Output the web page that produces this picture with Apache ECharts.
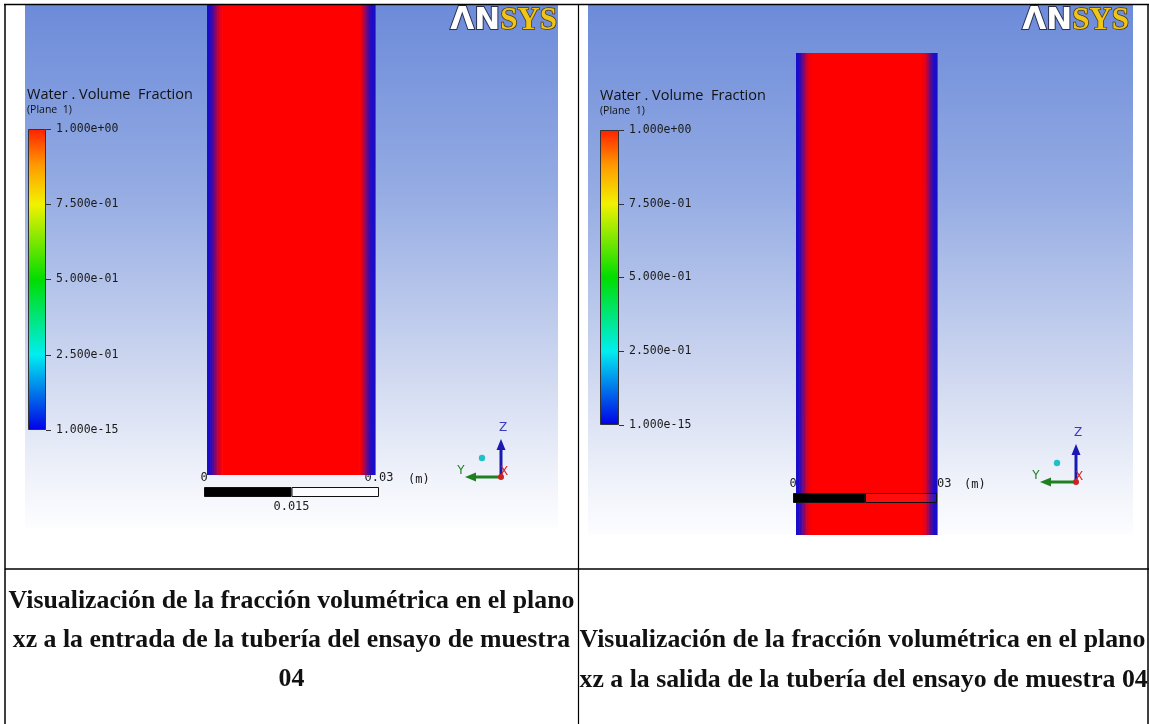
<!DOCTYPE html>
<html><head><meta charset="utf-8">
<script src="https://cdn.jsdelivr.net/npm/echarts@6/dist/echarts.min.js"></script>
<style>html,body{margin:0;padding:0;background:#fff}#c{width:1149px;height:724px}</style>
</head><body><div id="c"></div>
<script>
// ---- data ----
const legendTitle = 'Water . Volume  Fraction';
const legendSub = '(Plane  1)';
const colorbarTicks = [0, 0.25, 0.5, 0.75, 1];
const colorbarLabels = ['1.000e-15', '2.500e-01', '5.000e-01', '7.500e-01', '1.000e+00'];
const colormapStops = [0, 0.25, 0.5, 0.75, 0.88, 1];
const colormapColors = ['#0000e6', '#00eef0', '#00dd00', '#f2f200', '#ff9a00', '#ff2000'];
const scaleTicks = [0, 0.015, 0.03];
const scaleLabels = ['0', '0.015', '0.03'];
const scaleSegments = [0.015, 0.015];
const scaleUnit = '(m)';
// water volume fraction across the pipe (x in m): segment boundaries and values
const inletEdges = [0, 0.0006, 0.0009, 0.0012, 0.0015, 0.0018, 0.0021, 0.0024, 0.0027, 0.0272, 0.0275, 0.0278, 0.0281, 0.0284, 0.0287, 0.029, 0.0294, 0.03];
const inletValues = [0.0, 0.08, 0.22, 0.4, 0.57, 0.72, 0.85, 0.95, 1.0, 0.95, 0.85, 0.7, 0.54, 0.38, 0.22, 0.08, 0.0];
const outletEdges = [0, 0.0007, 0.001, 0.0013, 0.0016, 0.0019, 0.0022, 0.0025, 0.0029, 0.0034, 0.0266, 0.0271, 0.0275, 0.0278, 0.0281, 0.0284, 0.0287, 0.029, 0.0293, 0.03];
const outletValues = [0.0, 0.08, 0.2, 0.36, 0.52, 0.67, 0.8, 0.9, 0.96, 1.0, 0.96, 0.9, 0.8, 0.67, 0.52, 0.36, 0.2, 0.08, 0.0];
const captionLeft = ['Visualización de la fracción volumétrica en el plano', 'xz a la entrada de la tubería del ensayo de muestra', '04'];
const captionRight = ['Visualización de la fracción volumétrica en el plano', 'xz a la salida de la tubería del ensayo de muestra 04'];

// ---- build ----
const chart = echarts.init(document.getElementById('c'), null, {renderer: 'canvas'});
function segs(edges, vals) { return vals.map((v, i) => [edges[i], edges[i + 1], v]); }
function renderPipe(params, api) {
  const a = api.coord([api.value(0), 1]);
  const b = api.coord([api.value(1), 0]);
  return {type: 'rect', shape: {x: a[0], y: a[1], width: b[0] - a[0] + 0.6, height: b[1] - a[1]},
    style: {fill: api.visual('color')}};
}
const cbGradient = new echarts.graphic.LinearGradient(0, 1, 0, 0,
  colormapStops.map((s, i) => ({offset: s, color: colormapColors[i]})));
const monoFont = '"DejaVu Sans Mono", monospace';
const bgGrad = () => new echarts.graphic.LinearGradient(0, 0, 0, 1, [
  {offset: 0, color: '#6c8bd9'}, {offset: 0.35, color: '#94abe3'},
  {offset: 0.7, color: '#cfd8f0'}, {offset: 0.9, color: '#eff2fa'}, {offset: 1, color: '#fdfdff'}]);

const P = [
  {pipe: {left: 207, top: 5, width: 168, height: 470}, cb: {left: 28, top: 129, width: 18, height: 301},
   sc: {left: 204, top: 487, width: 175, height: 10}, data: segs(inletEdges, inletValues), midColor: '#222', fill: 'rgba(255,255,255,0.7)'},
  {pipe: {left: 796, top: 53, width: 141, height: 482}, cb: {left: 600, top: 130, width: 19, height: 295},
   sc: {left: 793, top: 493, width: 144, height: 10}, data: segs(outletEdges, outletValues), midColor: '#5a0a0a', fill: 'rgba(255,255,255,0.05)'}
];
const grid = [], xAxis = [], yAxis = [], series = [];
P.forEach((p, k) => {
  const g = grid.length;
  grid.push(p.pipe, p.cb, p.sc);
  const xi = xAxis.length, yi = yAxis.length;
  xAxis.push({gridIndex: g, type: 'value', min: 0, max: 0.03, show: false});
  xAxis.push({gridIndex: g + 1, type: 'category', data: [''], show: false});
  xAxis.push({gridIndex: g + 2, type: 'value', min: 0, max: 0.03, interval: 0.015, position: 'top',
    axisLine: {show: false}, axisTick: {show: false}, splitLine: {show: false},
    axisLabel: {margin: 3, fontFamily: monoFont, fontSize: 12, color: '#1a1a1a',
      formatter: v => { const i = scaleTicks.findIndex(t => Math.abs(t - v) < 1e-9); return i === 1 ? '' : scaleLabels[i]; }}});
  xAxis.push({gridIndex: g + 2, type: 'value', min: 0, max: 0.03, interval: 0.015, position: 'bottom',
    axisLine: {show: false}, axisTick: {show: false}, splitLine: {show: false},
    axisLabel: {margin: 4, fontFamily: monoFont, fontSize: 12, color: p.midColor,
      formatter: v => { const i = scaleTicks.findIndex(t => Math.abs(t - v) < 1e-9); return i === 1 ? scaleLabels[1] : ''; }}});
  yAxis.push({gridIndex: g, type: 'value', min: 0, max: 1, show: false});
  yAxis.push({gridIndex: g + 1, type: 'value', min: 0, max: 1, interval: 0.25, position: 'right',
    axisLine: {show: false}, splitLine: {show: false},
    axisTick: {show: true, length: 5, lineStyle: {color: '#333', width: 1}},
    axisLabel: {margin: 10, fontFamily: monoFont, fontSize: 11.5, color: '#1a1a1a',
      formatter: v => colorbarLabels[colorbarTicks.findIndex(t => Math.abs(t - v) < 1e-9)]}});
  yAxis.push({gridIndex: g + 2, type: 'category', data: [''], show: false});
  series.push({type: 'custom', xAxisIndex: xi, yAxisIndex: yi, renderItem: renderPipe, data: p.data, encode: {x: [0, 1], y: 2}});
  series.push({type: 'bar', xAxisIndex: xi + 1, yAxisIndex: yi + 1, data: [1], barWidth: '100%',
    itemStyle: {color: cbGradient, borderColor: '#333', borderWidth: 1}});
  series.push({type: 'bar', xAxisIndex: xi + 2, yAxisIndex: yi + 2, stack: 's' + k, data: [scaleSegments[0]], barWidth: '100%',
    itemStyle: {color: '#000', borderColor: '#111', borderWidth: 1}});
  series.push({type: 'bar', xAxisIndex: xi + 2, yAxisIndex: yi + 2, stack: 's' + k, data: [scaleSegments[1]], barWidth: '100%',
    itemStyle: {color: p.fill, borderColor: '#111', borderWidth: 1}});
});

function triad(ox, oy) {
  return [
    {type: 'line', shape: {x1: ox, y1: oy, x2: ox, y2: oy - 28}, style: {stroke: '#1a1ab0', lineWidth: 3}, z: 20},
    {type: 'polygon', shape: {points: [[ox - 4.5, oy - 27], [ox + 4.5, oy - 27], [ox, oy - 38]]}, style: {fill: '#1a1ab0'}, z: 20},
    {type: 'line', shape: {x1: ox, y1: oy, x2: ox - 26, y2: oy}, style: {stroke: '#208020', lineWidth: 3}, z: 20},
    {type: 'polygon', shape: {points: [[ox - 25, oy - 4.5], [ox - 25, oy + 4.5], [ox - 36, oy]]}, style: {fill: '#208020'}, z: 20},
    {type: 'circle', shape: {cx: ox, cy: oy, r: 3}, style: {fill: '#d02020'}, z: 21},
    {type: 'circle', shape: {cx: ox - 19, cy: oy - 19, r: 3.2}, style: {fill: '#20c0c8'}, z: 20},
    {type: 'text', x: ox + 2, y: oy - 49, style: {text: 'Z', fill: '#3a3ac0', font: '12px "DejaVu Sans"', align: 'center', verticalAlign: 'middle'}, z: 20},
    {type: 'text', x: ox - 40, y: oy - 6, style: {text: 'Y', fill: '#208020', font: '12px "DejaVu Sans"', align: 'center', verticalAlign: 'middle'}, z: 20},
    {type: 'text', x: ox + 3, y: oy - 5, style: {text: 'X', fill: '#e02020', font: '12px "DejaVu Sans"', align: 'center', verticalAlign: 'middle'}, z: 20}
  ];
}
function logo(rx) {
  return {type: 'text', x: rx, y: 21, z: 20, style: {
    text: '{a|ΛN}{b|SYS}', align: 'right', verticalAlign: 'middle',
    rich: {a: {font: 'bold 31px "DejaVu Sans"', fill: '#ffffff', stroke: '#2a3050', lineWidth: 2},
           b: {font: 'bold 31px "Liberation Serif"', fill: '#f0c419', stroke: '#4a3a08', lineWidth: 1.5}}}};
}
function legendText(x, y) {
  return [
    {type: 'text', x: x, y: y, z: 20, style: {text: legendTitle, font: '14.5px "Open Sans"', fill: '#111', verticalAlign: 'middle'}},
    {type: 'text', x: x, y: y + 15, z: 20, style: {text: legendSub, font: '10.5px "Open Sans"', fill: '#111', verticalAlign: 'middle'}}
  ];
}
const capFont = 'bold 25.8px "Liberation Serif"';
const graphics = [
  {type: 'rect', shape: {x: 25, y: 5, width: 533, height: 523}, style: {fill: bgGrad()}, z: 0},
  {type: 'rect', shape: {x: 588, y: 5, width: 545, height: 530}, style: {fill: bgGrad()}, z: 0},
  ...legendText(27, 95), ...legendText(600, 96),
  logo(557), logo(1129),
  ...triad(501, 477), ...triad(1076, 482),
  {type: 'text', x: 408, y: 480, z: 20, style: {text: scaleUnit, font: '12px "DejaVu Sans Mono"', fill: '#1a1a1a', verticalAlign: 'middle'}},
  {type: 'text', x: 964, y: 485, z: 20, style: {text: scaleUnit, font: '12px "DejaVu Sans Mono"', fill: '#1a1a1a', verticalAlign: 'middle'}},
  // table lines
  {type: 'line', shape: {x1: 4, y1: 4.5, x2: 1149, y2: 4.5}, style: {stroke: '#000', lineWidth: 1.5}, z: 30},
  {type: 'line', shape: {x1: 5, y1: 4, x2: 5, y2: 724}, style: {stroke: '#000', lineWidth: 1.5}, z: 30},
  {type: 'line', shape: {x1: 578.5, y1: 4, x2: 578.5, y2: 724}, style: {stroke: '#000', lineWidth: 1.2}, z: 30},
  {type: 'line', shape: {x1: 1148, y1: 4, x2: 1148, y2: 724}, style: {stroke: '#000', lineWidth: 1.5}, z: 30},
  {type: 'line', shape: {x1: 5, y1: 569, x2: 1149, y2: 569}, style: {stroke: '#000', lineWidth: 1.5}, z: 30},
  ...captionLeft.map((t, i) => ({type: 'text', x: 291.5, y: 601 + i * 39, z: 30,
    style: {text: t, font: capFont, fill: '#111', align: 'center', verticalAlign: 'middle'}})),
  ...captionRight.map((t, i) => ({type: 'text', x: 579.5, y: 640 + i * 40, z: 30,
    style: {text: t, font: capFont, fill: '#111', align: 'left', verticalAlign: 'middle'}}))
];

chart.setOption({
  animation: false,
  backgroundColor: '#ffffff',
  grid: grid.map(g => Object.assign({containLabel: false}, g)),
  xAxis, yAxis, series,
  visualMap: [{type: 'continuous', show: false, seriesIndex: [0, 4], dimension: 2, min: 0, max: 1,
    inRange: {color: ['#1a0cc8', '#ff0000']}}],
  graphic: graphics
});
</script>
</body></html>
